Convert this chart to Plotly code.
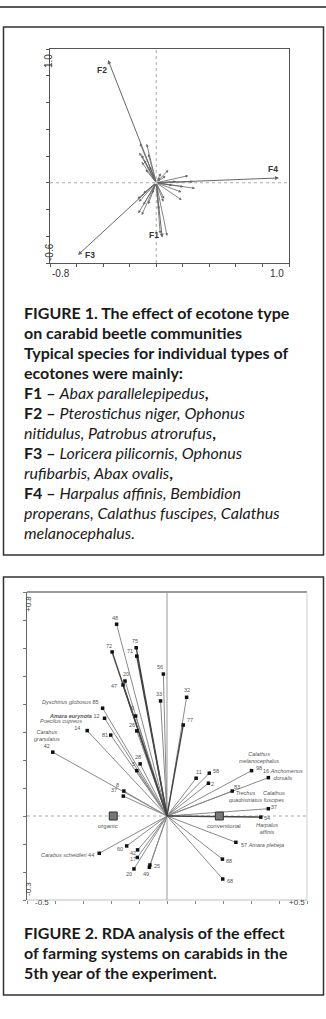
import plotly.graph_objects as go

W, H = 326, 1019

# ---------------- Figure 1 data (ecotone RDA) ----------------
f1_labels = ["F1", "F2", "F3", "F4"]
f1_x = [0.045, -0.363, -0.589, 0.925]
f1_y = [-0.410, 0.918, -0.540, 0.036]

sp1_x = [-0.122, -0.072, -0.127, -0.110, -0.060, -0.110, -0.090, -0.050, -0.080, -0.030,
         0.034, 0.091, 0.030, 0.070,
         0.242, 0.279, 0.292, 0.204, 0.190, 0.150, 0.120, 0.192,
         -0.097, -0.140, -0.130, -0.097, -0.135, -0.109, -0.060, -0.030,
         0.054, 0.060, 0.020, 0.030, 0.082]
sp1_y = [0.295, 0.290, 0.225, 0.207, 0.215, 0.155, 0.170, 0.120, 0.100, 0.060,
         0.071, 0.095, 0.040, 0.050,
         0.053, 0.008, -0.042, -0.030, -0.070, 0.010, -0.020, -0.129,
         -0.079, -0.120, -0.142, -0.167, -0.228, -0.241, -0.160, -0.080,
         -0.142, -0.120, -0.200, -0.380, -0.398]

f1_xticks = [-0.8, -0.6, -0.4, -0.2, 0.0, 0.2, 0.4, 0.6, 0.8, 1.0]
f1_yticks = [-0.6, -0.4, -0.2, 0.0, 0.2, 0.4, 0.6, 0.8, 1.0]

# ---------------- Figure 2 data (farming systems RDA) ----------------
sp2_labels = ["48", "72", "75", "71", "56", "33", "32", "77", "20", "47",
              "9", "26", "81",
              "<i>Dyschirius globosus</i> 85", "<b><i>Amara eurynota</i></b> 12",
              "<i>Poecilus cupreus</i><br>14 ", "<i>Carabus</i><br><i>granulatus</i><br>42",
              "28", "5", "8", "37", "11", "58", "2",
              "<i>Calathus</i><br><i>melanocephalus</i><br>98",
              "16 <i>Anchomenus</i><br><i>dorsalis</i>",
              "83",
              "<i>Calathus</i><br><i>fuscipes</i><br>37",
              "54<br><i>Harpalus</i><br><i>affinis</i>",
              "57 <i>Amara plebeja</i>",
              "88", "68",
              "<i>Carabus scheidleri</i> 44",
              "60", "42", "17", "20", "49", "25"]
sp2_x = [-0.180, -0.196, -0.110, -0.108, -0.013, -0.023, 0.070, 0.058, -0.150, -0.157,
         -0.112, -0.108, -0.201,
         -0.230, -0.223, -0.285, -0.408,
         -0.096, -0.108, -0.154, -0.156, 0.104, 0.151, 0.148,
         0.302, 0.362, 0.233, 0.362, 0.335, 0.246,
         0.198, 0.199,
         -0.242,
         -0.144, -0.105, -0.106, -0.118, -0.063, -0.061]
sp2_y = [0.685, 0.586, 0.601, 0.571, 0.507, 0.411, 0.424, 0.325, 0.482, 0.468,
         0.357, 0.304, 0.289,
         0.385, 0.349, 0.305, 0.228,
         0.186, 0.162, 0.089, 0.071, 0.135, 0.153, 0.117,
         0.162, 0.137, 0.089, 0.026, -0.004, -0.094,
         -0.154, -0.225,
         -0.133,
         -0.107, -0.121, -0.148, -0.189, -0.183, -0.175]
extra_name = "<i>Trechus</i><br><i>quadristriatus</i>"   # name attached to point "83"

cent_labels = ["organic", "conventional"]
cent_x = [-0.192, 0.187]
cent_y = [0.0, 0.0]

f2_xticks = [-0.5, -0.4, -0.3, -0.2, -0.1, 0.0, 0.1, 0.2, 0.3, 0.4, 0.5]
f2_yticks = [-0.3, -0.2, -0.1, 0.0, 0.1, 0.2, 0.3, 0.4, 0.5, 0.6, 0.7, 0.8]

# ---------------- styles (pixel offsets for labels) ----------------
F1_LAB = [(-8, -3), (-6, 10), (12, 0), (-6, -9)]
SP2_POS = [("center", -2, -6), ("center", -3, -6), ("center", -1, -7), ("center", -7, -5),
           ("center", -3, -7), ("center", -2, -7), ("center", 0, -7), ("center", 7, -5),
           ("center", 1, -7), ("center", -9, 1),
           ("center", -3, -8), ("center", -5, -6), ("center", -6, 0),
           ("right", -2, -6), ("right", -3, -2), ("right", -3, -6), ("center", -6, -13),
           ("center", -2, -7), ("center", -3, -7), ("center", -6, -6), ("center", -9, -6),
           ("center", 3, -6), ("center", 7, -2), ("center", 4, 1),
           ("center", 7, -10), ("center", 15, -3), ("center", 5, -4),
           ("center", 6, -9), ("center", 6, 8), ("left", 3, 3),
           ("center", 7, 2), ("center", 7, 2),
           ("right", -3, 2),
           ("center", -7, 3), ("center", -5, 3), ("center", -4, 2), ("center", -5, 5),
           ("center", -3, 7), ("center", 7, 1)]
DARK = {1, 2, 3, 7, 9, 28}
EXTRA_POS = (26, 13, 5)   # index, dx, dy


def px(x):
    return x / W


def py(y):
    return 1 - y / H


fig = go.Figure()

# ---------- Figure 1 axes ----------
ax1 = dict(range=[-0.8, 1.0], domain=[px(50), px(289)], showgrid=False, zeroline=False,
           showline=True, linecolor="#555", linewidth=1, mirror=True,
           tickvals=f1_xticks, ticks="outside", ticklen=3, tickcolor="#555",
           showticklabels=False, fixedrange=True)
ay1 = dict(range=[-0.6, 1.0], domain=[py(263), py(49)], showgrid=False, zeroline=False,
           showline=True, linecolor="#555", linewidth=1, mirror=True,
           tickvals=f1_yticks, ticks="outside", ticklen=3, tickcolor="#555",
           showticklabels=False, fixedrange=True)
ax2 = dict(range=[-0.5, 0.5], domain=[px(27), px(307)], showgrid=False, zeroline=False,
           showline=False, tickvals=f2_xticks, ticks="outside", ticklen=3,
           tickcolor="#888", showticklabels=False, fixedrange=True, anchor="y2")
ay2 = dict(range=[-0.3, 0.8], domain=[py(900), py(592)], showgrid=False, zeroline=False,
           showline=True, linecolor="#666", linewidth=1,
           tickvals=f2_yticks, ticks="outside", ticklen=3, tickcolor="#777",
           showticklabels=False, fixedrange=True, anchor="x2")

annotations = []
shapes = []

# zero lines fig 1 (dotted)
shapes.append(dict(type="line", xref="x", yref="y domain", x0=0, x1=0, y0=0, y1=1,
                   line=dict(color="#aaa", width=1, dash="dot"), layer="below"))
shapes.append(dict(type="line", xref="x domain", yref="y", x0=0, x1=1, y0=0, y1=0,
                   line=dict(color="#aaa", width=1, dash="dot"), layer="below"))

# species arrows fig 1
for x, y in zip(sp1_x, sp1_y):
    annotations.append(dict(x=x, y=y, ax=0, ay=0, xref="x", yref="y", axref="x", ayref="y",
                            text="", showarrow=True, arrowhead=2, arrowsize=0.7,
                            arrowwidth=0.8, arrowcolor="#666", standoff=0))
# main factor arrows
for x, y in zip(f1_x, f1_y):
    annotations.append(dict(x=x, y=y, ax=0, ay=0, xref="x", yref="y", axref="x", ayref="y",
                            text="", showarrow=True, arrowhead=2, arrowsize=0.8,
                            arrowwidth=1, arrowcolor="#666", standoff=0))
for lab, x, y, (dx, dy) in zip(f1_labels, f1_x, f1_y, F1_LAB):
    annotations.append(dict(x=x, y=y, xref="x", yref="y", text="<b>%s</b>" % lab,
                            showarrow=False, xshift=dx, yshift=-dy,
                            font=dict(family="Liberation Sans, Arial", size=8.5, color="#333")))

# fig 1 tick labels
tick_font1 = dict(family="Liberation Sans, Arial", size=10, color="#333")
annotations.append(dict(x=-0.8, y=py(273), xref="x", yref="paper", text="-0.8",
                        showarrow=False, xanchor="left", yanchor="middle", font=tick_font1))
annotations.append(dict(x=1.0, y=py(273), xref="x", yref="paper", text="1.0",
                        showarrow=False, xanchor="right", yanchor="middle", xshift=-3,
                        font=tick_font1))
annotations.append(dict(x=px(41.5), y=1.0, xref="paper", yref="y", text="1.0",
                        showarrow=False, textangle=-90, yanchor="top", yshift=-3,
                        font=tick_font1))
annotations.append(dict(x=px(41.5), y=-0.6, xref="paper", yref="y", text="-0.6",
                        showarrow=False, textangle=-90, yanchor="bottom",
                        font=tick_font1))

# ---------- Figure 2 ----------
# frame
shapes.append(dict(type="line", xref="x2 domain", yref="y2 domain", x0=0, x1=1, y0=1, y1=1,
                   line=dict(color="#9a9a9a", width=2)))
shapes.append(dict(type="line", xref="x2 domain", yref="y2 domain", x0=1, x1=1, y0=0, y1=1,
                   line=dict(color="#cfcfcf", width=1)))
shapes.append(dict(type="line", xref="x2 domain", yref="y2 domain", x0=0, x1=1, y0=0, y1=0,
                   line=dict(color="#bdbdbd", width=1)))
# zero lines
shapes.append(dict(type="line", xref="x2", yref="y2 domain", x0=0, x1=0, y0=0, y1=1,
                   line=dict(color="#999", width=1), layer="below"))
shapes.append(dict(type="line", xref="x2 domain", yref="y2", x0=0, x1=1, y0=0, y1=0,
                   line=dict(color="#aaa", width=1.2, dash="dot"), layer="below"))

lx_l, ly_l, lx_d, ly_d = [], [], [], []
for i, (x, y) in enumerate(zip(sp2_x, sp2_y)):
    if i in DARK:
        lx_d += [0, x, None]
        ly_d += [0, y, None]
    else:
        lx_l += [0, x, None]
        ly_l += [0, y, None]
fig.add_trace(go.Scatter(x=lx_l, y=ly_l, xaxis="x2", yaxis="y2", mode="lines",
                         line=dict(color="#8a8a8a", width=1), hoverinfo="skip",
                         showlegend=False))
fig.add_trace(go.Scatter(x=lx_d, y=ly_d, xaxis="x2", yaxis="y2", mode="lines",
                         line=dict(color="#444", width=1.4), hoverinfo="skip",
                         showlegend=False))
fig.add_trace(go.Scatter(x=sp2_x, y=sp2_y, xaxis="x2", yaxis="y2", mode="markers",
                         marker=dict(symbol="square", size=3.5, color="#111"),
                         hoverinfo="skip", showlegend=False))
fig.add_trace(go.Scatter(x=cent_x, y=cent_y, xaxis="x2", yaxis="y2", mode="markers",
                         marker=dict(symbol="square", size=8, color="#777",
                                     line=dict(color="#333", width=1)),
                         hoverinfo="skip", showlegend=False))

lab_font = dict(family="Liberation Sans, Arial", size=5.5, color="#555")
for lab, x, y, (anc, dx, dy) in zip(sp2_labels, sp2_x, sp2_y, SP2_POS):
    annotations.append(dict(x=x, y=y, xref="x2", yref="y2", text=lab, showarrow=False,
                            xanchor=anc, yanchor="middle", align=anc if anc != "center" else "center",
                            xshift=dx, yshift=-dy, font=lab_font))
ei, edx, edy = EXTRA_POS
annotations.append(dict(x=sp2_x[ei], y=sp2_y[ei], xref="x2", yref="y2", text=extra_name,
                        showarrow=False, xshift=edx, yshift=-edy, font=lab_font))
for lab, x, y, dx in zip(cent_labels, cent_x, cent_y, [-5, 5]):
    annotations.append(dict(x=x, y=y, xref="x2", yref="y2", text=lab, showarrow=False,
                            xshift=dx, yshift=-10,
                            font=dict(family="Liberation Sans, Arial", size=6, color="#555")))

tick_font2 = dict(family="Liberation Sans, Arial", size=8, color="#444")
annotations.append(dict(x=-0.5, y=py(909), xref="x2", yref="paper", text="-0.5",
                        showarrow=False, xanchor="left", xshift=6, font=tick_font2))
annotations.append(dict(x=0.5, y=py(909), xref="x2", yref="paper", text="+0.5",
                        showarrow=False, xanchor="right", font=tick_font2))
annotations.append(dict(x=px(21.5), y=0.8, xref="paper", yref="y2", text="+0.8",
                        showarrow=False, textangle=-90, yanchor="top", yshift=-2,
                        font=tick_font2))
annotations.append(dict(x=px(21.5), y=-0.3, xref="paper", yref="y2", text="-0.3",
                        showarrow=False, textangle=-90, yanchor="bottom", yshift=2,
                        font=tick_font2))

# ---------- page decoration: rule and boxes ----------
shapes.append(dict(type="line", xref="paper", yref="paper", x0=0, x1=1, y0=py(7), y1=py(7),
                   line=dict(color="#222", width=1.5)))
shapes.append(dict(type="rect", xref="paper", yref="paper", x0=px(3.5), x1=px(323.5),
                   y0=py(555), y1=py(27), line=dict(color="#333", width=1.5)))
shapes.append(dict(type="rect", xref="paper", yref="paper", x0=px(3.5), x1=px(323.5),
                   y0=py(995), y1=py(577), line=dict(color="#333", width=1.5)))

# ---------- captions ----------
cap1 = ["<b>FIGURE 1. The effect of ecotone type</b>",
        "<b>on carabid beetle communities</b>",
        "<b>Typical species for individual types of</b>",
        "<b>ecotones were mainly:</b>",
        "<b>F1 – </b><i>Abax parallelepipedus</i><b>,</b>",
        "<b>F2 – </b><i>Pterostichus niger, Ophonus</i>",
        "<i>nitidulus, Patrobus atrorufus</i><b>,</b>",
        "<b>F3 – </b><i>Loricera pilicornis, Ophonus</i>",
        "<i>rufibarbis, Abax ovalis</i><b>,</b>",
        "<b>F4 – </b><i>Harpalus affinis, Bembidion</i>",
        "<i>properans, Calathus fuscipes, Calathus</i>",
        "<i>melanocephalus.</i>"]
cap2 = ["<b>FIGURE 2. RDA analysis of the effect</b>",
        "<b>of farming systems on carabids in the</b>",
        "<b>5th year of the experiment.</b>"]
cap_font = dict(family="Lato", size=16, color="#1a1a1a")
for i, line in enumerate(cap1):
    annotations.append(dict(x=px(21.5), y=py(312.7 + 20 * i), xref="paper", yref="paper",
                            text=line, showarrow=False, xanchor="left", yanchor="middle",
                            font=cap_font))
for i, line in enumerate(cap2):
    annotations.append(dict(x=px(21.5), y=py(932.7 + 20 * i), xref="paper", yref="paper",
                            text=line, showarrow=False, xanchor="left", yanchor="middle",
                            font=cap_font))

fig.update_layout(width=W, height=H, margin=dict(l=0, r=0, t=0, b=0),
                  paper_bgcolor="white", plot_bgcolor="white",
                  xaxis=ax1, yaxis=ay1, xaxis2=ax2, yaxis2=ay2,
                  annotations=annotations, shapes=shapes, showlegend=False)

fig.write_html("out.html", config={"displayModeBar": False})
